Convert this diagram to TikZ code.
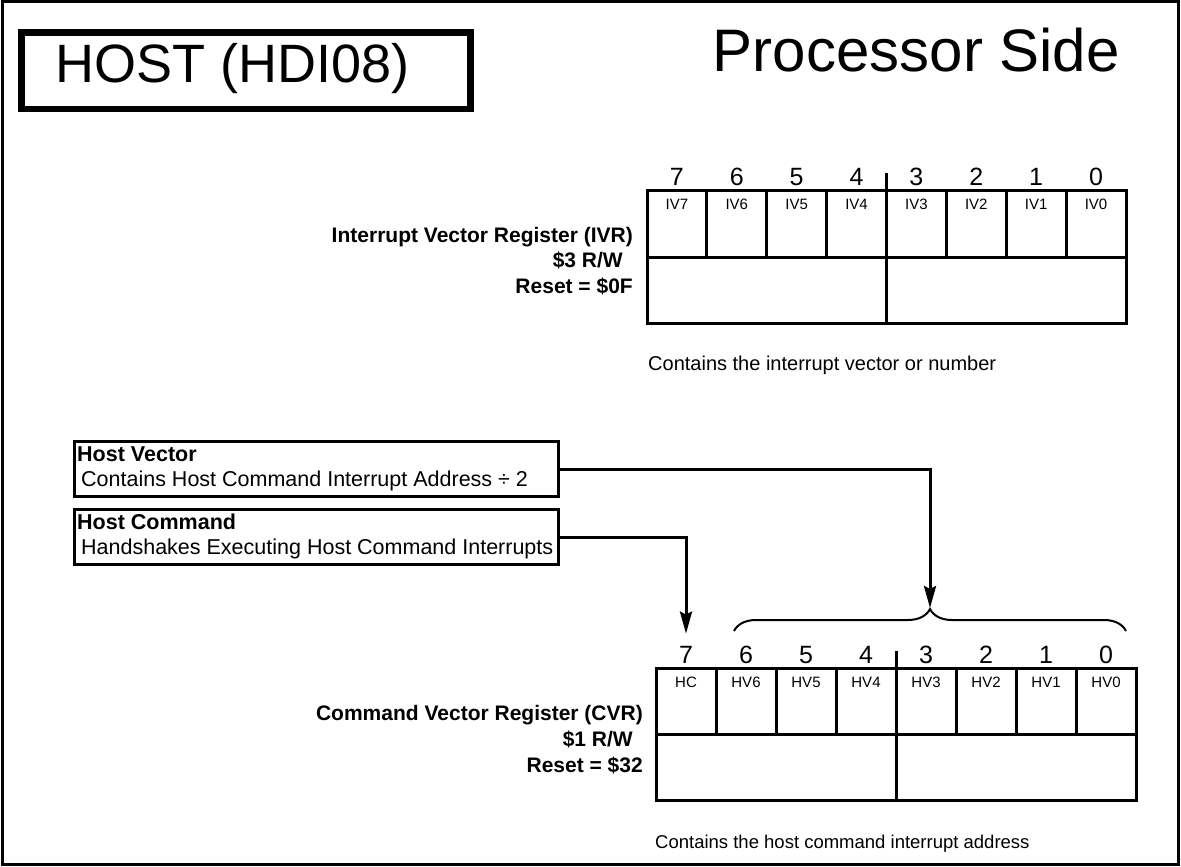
\documentclass[tikz,border=0pt]{standalone}
\usepackage{fontspec}
\setmainfont{Liberation Sans}
\usetikzlibrary{arrows.meta,decorations.pathreplacing,calc}
\begin{document}
\begin{tikzpicture}[x=1pt,y=-1pt,
  reg/.style={line width=3pt},
  conn/.style={line width=3pt,-{Stealth[length=22pt,width=12pt,inset=3pt]}},
  bitnum/.style={anchor=base,inner sep=0pt,font=\fontsize{25}{28}\selectfont},
  cellfont/.style={anchor=base,inner sep=0pt,font=\fontsize{15}{17}\selectfont},
  regname/.style={anchor=base east,inner sep=0pt,font=\fontsize{21}{24}\selectfont\bfseries},
  caption/.style={anchor=base west,inner sep=0pt,font=\fontsize{18.5}{22}\selectfont},
  infobox/.style={draw,line width=3pt,anchor=north west,minimum width=484pt,minimum height=55pt,inner sep=0pt},
  infotitle/.style={anchor=base west,inner sep=0pt,font=\fontsize{21.5}{24}\selectfont\bfseries},
  infotext/.style={anchor=base west,inner sep=0pt,font=\fontsize{21.5}{24}\selectfont},
  bracestyle/.style={line width=2pt,decorate,decoration={brace,amplitude=22pt}}
]
\useasboundingbox (0,0) rectangle (1181,867);
\draw[line width=3pt] (2,2) rectangle (1178,864);

% titles
\node[draw,line width=6.5pt,anchor=north west,minimum width=449pt,minimum height=76pt,inner sep=0pt] (hostbox) at (18,29.5) {};
\node[anchor=base west,inner sep=0pt,font=\fontsize{54}{60}\selectfont] (hosttitle) at (55,82) {HOST (HDI08)};
\node[anchor=base east,inner sep=0pt,font=\fontsize{60}{64}\selectfont] (proctitle) at (1120,72) {Processor Side};

% IVR register
\draw[reg] (647,190) rectangle (1126,323);
\draw[reg] (647,257) -- (1126,257);
\foreach \i in {1,...,7} \draw[reg] ({647+\i*59.875},190) -- ({647+\i*59.875},257);
\draw[reg] (886.5,173) -- (886.5,323);
\foreach \b [count=\i from 0] in {7,6,5,4,3,2,1,0} {
  \node[bitnum] (ivrb\b) at ({647+(\i+0.5)*59.875},185) {\b};
  \node[cellfont] (ivrc\b) at ({647+(\i+0.5)*59.875},209) {IV\b};
}
\node[regname] (ivrname) at (633,242) {Interrupt Vector Register (IVR)};
\node[regname] (ivraddr) at (623,267) {\$3 R/W};
\node[regname] (ivrreset) at (633,293) {Reset = \$0F};
\node[caption,font=\fontsize{20}{22}\selectfont] (ivrcap) at (648,370) {Contains the interrupt vector or number};

% info boxes
\node[infobox] (hv) at (73,440) {};
\node[infotitle] (hvtitle) at (77,461) {Host Vector};
\node[infotext] (hvtext) at (81,486) {Contains Host Command Interrupt Address ÷ 2};
\node[infobox] (hc) at (73,508) {};
\node[infotitle] (hctitle) at (77,529) {Host Command};
\node[infotext] (hctext) at (81,554) {Handshakes Executing Host Command Interrupts};

% CVR register
\draw[reg] (656,668) rectangle (1136,800);
\draw[reg] (656,734) -- (1136,734);
\foreach \i in {1,...,7} \draw[reg] ({656+\i*60},668) -- ({656+\i*60},734);
\draw[reg] (896,651) -- (896,800);
\foreach \b/\t [count=\i from 0] in {7/HC,6/HV6,5/HV5,4/HV4,3/HV3,2/HV2,1/HV1,0/HV0} {
  \node[bitnum] (cvrb\b) at ({656+(\i+0.5)*60},663) {\b};
  \node[cellfont] (cvrc\b) at ({656+(\i+0.5)*60},687) {\t};
}
\node[regname] (cvrname) at (643,720) {Command Vector Register (CVR)};
\node[regname] (cvraddr) at (633,746) {\$1 R/W};
\node[regname] (cvrreset) at (643,772) {Reset = \$32};
\node[caption] (cvrcap) at (655,848) {Contains the host command interrupt address};

% brace and connectors
\draw[bracestyle] (734,631) coordinate (bl) -- (1126,631) coordinate (br);
\coordinate (bracetip) at ($(bl)!0.5!(br)+(0,-23)$);
\coordinate (hctip) at ($(cvrb7.north)+(0,-12)$);
\draw[conn] (hv.east) -| (bracetip);
\draw[conn] (hc.east) -| (hctip);
\end{tikzpicture}
\end{document}
